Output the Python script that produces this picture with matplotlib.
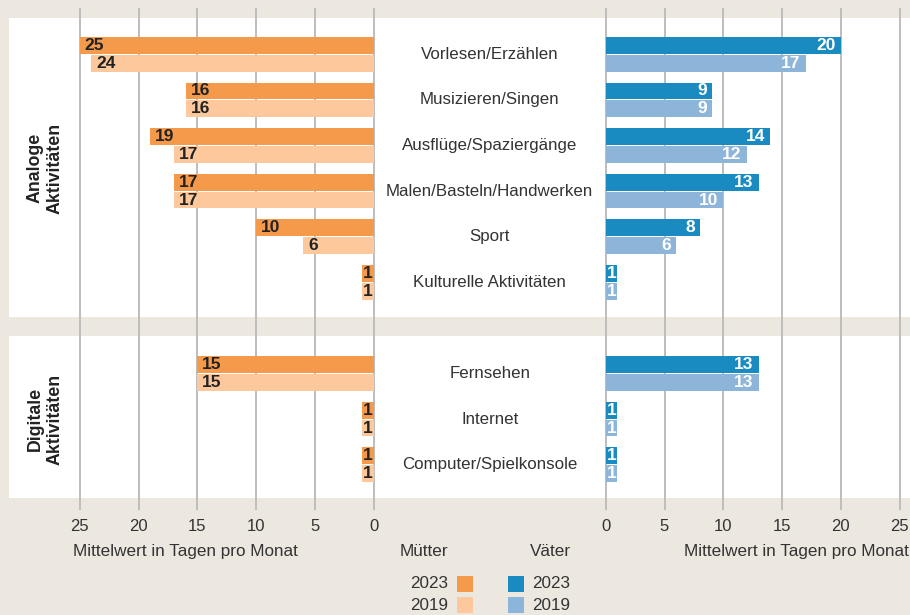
import matplotlib
matplotlib.use('Agg')
import matplotlib.pyplot as plt
from matplotlib.patches import Rectangle
import matplotlib.transforms as mtrans

# ---------------- data ----------------
categories = ['Vorlesen/Erzählen', 'Musizieren/Singen', 'Ausflüge/Spaziergänge',
              'Malen/Basteln/Handwerken', 'Sport', 'Kulturelle Aktivitäten',
              'Fernsehen', 'Internet', 'Computer/Spielkonsole']
group_of = [0, 0, 0, 0, 0, 0, 1, 1, 1]
groups = ['Analoge\nAktivitäten', 'Digitale\nAktivitäten']
mothers_2023 = [25, 16, 19, 17, 10, 1, 15, 1, 1]
mothers_2019 = [24, 16, 17, 17, 6, 1, 15, 1, 1]
fathers_2023 = [20, 9, 14, 13, 8, 1, 13, 1, 1]
fathers_2019 = [17, 9, 12, 10, 6, 1, 13, 1, 1]
ticks = [0, 5, 10, 15, 20, 25]
years = ['2023', '2019']
axis_label = 'Mittelwert in Tagen pro Monat'
side_labels = ['Mütter', 'Väter']

# ---------------- style ----------------
BG = '#ECE8E0'
ORANGE = ['#F5994A', '#FCC89C']
BLUE = ['#1A8BC1', '#8DB5D9']
GRID = '#BDBDBD'
TXT = '#333333'
plt.rcParams['font.family'] = ['Liberation Sans', 'DejaVu Sans']

W, H = 910, 615
fig = plt.figure(figsize=(W / 100, H / 100), dpi=100, facecolor=BG)

def fx(px):
    return px / W

def fy(py):
    return 1 - py / H

# row positions: a gap row between the groups
rows = [i + g for i, g in enumerate(group_of)]
ROW0, ROWSTEP = 54.3, 45.6          # pixel position of row 0 and spacing
def row_of_px(py):
    return (py - ROW0) / ROWSTEP

AX_TOP, AX_BOT = 8, 510
ylim = (row_of_px(AX_BOT), row_of_px(AX_TOP))
ax_b, ax_h = fy(AX_BOT), (AX_BOT - AX_TOP) / H

# background panels
bg = fig.add_axes([0, ax_b, 1, ax_h], zorder=0)
bg.set_xlim(0, 1)
bg.set_ylim(*ylim)
bg.axis('off')
bg.axhspan(row_of_px(18), row_of_px(317), xmin=fx(9), xmax=1, color='white', lw=0)
bg.axhspan(row_of_px(336), row_of_px(498), xmin=fx(9), xmax=1, color='white', lw=0)

UNIT = 11.76  # px per day
PADU = 0.5
L0 = 373.7    # px of zero (mothers)
R0 = 605.7    # px of zero (fathers)
axL = fig.add_axes([fx(L0 - (25 + PADU) * UNIT), ax_b, (25 + 2 * PADU) * UNIT / W, ax_h], zorder=2)
axR = fig.add_axes([fx(R0 - PADU * UNIT), ax_b, (25 + 2 * PADU) * UNIT / W, ax_h], zorder=2)
axL.set_xlim(25 + PADU, -PADU)
axR.set_xlim(-PADU, 25 + PADU)

BH = 0.366
OFF = 0.196
for ax, data, cols, side in [(axL, (mothers_2023, mothers_2019), ORANGE, 'L'),
                             (axR, (fathers_2023, fathers_2019), BLUE, 'R')]:
    ax.set_facecolor('none')
    ax.set_ylim(*ylim)
    for s in ax.spines.values():
        s.set_visible(False)
    ax.set_yticks([])
    ax.set_xticks(ticks)
    ax.set_xticklabels([str(t) for t in ticks])
    ax.tick_params(axis='x', length=0, pad=6.5, labelsize=12, labelcolor=TXT)
    ax.grid(axis='x', color=GRID, lw=1.4, zorder=0)
    ax.set_axisbelow(True)
    for k, vals in enumerate(data):
        ys = [r + (-OFF if k == 0 else OFF) for r in rows]
        ax.barh(ys, vals, height=BH, color=cols[k], lw=0, zorder=3)
        for y, v in zip(ys, vals):
            tcol = '#222222' if side == 'L' else 'white'
            if v <= 1:
                ax.annotate(str(v), xy=(v / 2, y), ha='center', va='center',
                            fontsize=12.5, fontweight='bold', color=tcol, zorder=4)
            elif side == 'L':
                ax.annotate(str(v), xy=(v, y), xytext=(3.6, 0), textcoords='offset points',
                            ha='left', va='center', fontsize=12.5, fontweight='bold',
                            color=tcol, zorder=4)
            else:
                ax.annotate(str(v), xy=(v, y), xytext=(-3.6, 0), textcoords='offset points',
                            ha='right', va='center', fontsize=12.5, fontweight='bold',
                            color=tcol, zorder=4)

# category labels in the middle
tr = mtrans.blended_transform_factory(fig.transFigure, axL.transData)
for cat, r in zip(categories, rows):
    fig.text(fx(489.7), r, cat, transform=tr, ha='center', va='center',
             fontsize=12.2, color=TXT, zorder=5)

# group labels
for gi, gname in enumerate(groups):
    rr = [r for r, g in zip(rows, group_of) if g == gi]
    fig.text(fx(45), (min(rr) + max(rr)) / 2, gname, transform=tr, rotation=90,
             ha='center', va='center', multialignment='center', fontsize=12.8,
             fontweight='bold', color='#222222', linespacing=1.2, zorder=5)

# axis labels
fig.text(fx(185), fy(551.7), axis_label, ha='center', va='center', fontsize=12.3, color=TXT)
fig.text(fx(909), fy(551.7), axis_label, ha='right', va='center', fontsize=12.3, color=TXT)
fig.text(fx(424), fy(551.7), side_labels[0], ha='center', va='center', fontsize=12.3, color=TXT)
fig.text(fx(550.5), fy(551.7), side_labels[1], ha='center', va='center', fontsize=12.3, color=TXT)

# legend
for k, yr in enumerate(years):
    yc = 584 + 21 * k
    fig.patches.append(Rectangle((fx(456.7), fy(yc + 8)), 16.3 / W, 15.7 / H,
                                 transform=fig.transFigure, color=ORANGE[k], lw=0))
    fig.patches.append(Rectangle((fx(508), fy(yc + 8)), 16.3 / W, 15.7 / H,
                                 transform=fig.transFigure, color=BLUE[k], lw=0))
    fig.text(fx(448), fy(yc), yr, ha='right', va='center', fontsize=12.3, color=TXT)
    fig.text(fx(531.7), fy(yc), yr, ha='left', va='center', fontsize=12.3, color=TXT)

fig.savefig('out.png', dpi=100, facecolor=BG)
